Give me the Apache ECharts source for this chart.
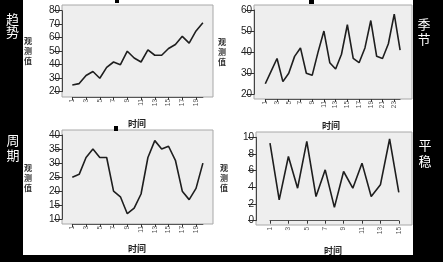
<!DOCTYPE html>
<html><head><meta charset="utf-8">
<script src="https://cdn.jsdelivr.net/npm/echarts@6/dist/echarts.min.js"></script>
<style>html,body{margin:0;padding:0;background:#000;}#c{width:443px;height:262px;}</style>
</head><body><div id="c"></div>
<script>
// ---- data ----
const trendCategories = ['1','2','3','4','5','6','7','8','9','10','11','12','13','14','15','16','17','18','19','20'];
const trendValues = [25, 26, 32, 35, 30, 38, 42, 40, 50, 45, 42, 51, 47, 47, 52, 55, 61, 56, 65, 71];

const seasonCategories = ['1','2','3','4','5','6','7','8','9','10','11','12','13','14','15','16','17','18','19','20','21','22','23','24'];
const seasonValues = [25, 31, 37, 26, 30, 38, 42, 30, 29, 40, 50, 35, 32, 39, 53, 37, 35, 42, 55, 38, 37, 44, 58, 41];

const cycleCategories = ['1','2','3','4','5','6','7','8','9','10','11','12','13','14','15','16','17','18','19','20'];
const cycleValues = [25, 26, 32, 35, 32, 32, 20, 18, 12, 14, 19, 32, 38, 35, 36, 31, 20, 17, 21, 30];

const stableCategories = ['1','2','3','4','5','6','7','8','9','10','11','12','13','14','15'];
const stableValues = [9.3, 2.5, 7.7, 3.9, 9.5, 2.9, 6.1, 1.6, 5.9, 3.9, 6.9, 2.9, 4.3, 9.8, 3.4];

const panelTitles = ['趋势', '季节', '周期', '平稳'];
const yAxisName = '观测值';
const xAxisName = '时间';

// ---- layout ----
const panels = [
  {cats: trendCategories, vals: trendValues, yMin: 20, yMax: 80, yInt: 10,
   grid: {left: 72.3, top: 10.7, width: 130.6, height: 81}, box: [62, 5, 151, 92],
   yName: [28, 51], xName: [137, 124], title: [12.5, 19, 32]},
  {cats: seasonCategories, vals: seasonValues, yMin: 20, yMax: 60, yInt: 10,
   grid: {left: 265.3, top: 10, width: 134.8, height: 84.3}, box: [254, 5, 158, 94],
   yName: [222, 52], xName: [331, 126], title: [424, 24, 39]},
  {cats: cycleCategories, vals: cycleValues, yMin: 10, yMax: 40, yInt: 5,
   grid: {left: 72.3, top: 135, width: 130.6, height: 84.3}, box: [62, 130, 151, 94],
   yName: [28, 178], xName: [137, 249], title: [13, 140, 155]},
  {cats: stableCategories, vals: stableValues, yMin: 0, yMax: 10, yInt: 2,
   grid: {left: 270, top: 137.3, width: 128.8, height: 83.4}, box: [256, 132, 156, 93],
   yName: [224, 178], xName: [333, 251], title: [425, 145, 161]}
];

const numFont = 'Liberation Sans, Arial, sans-serif';
const cjk = '"Noto Sans CJK SC", sans-serif';

// background grids (no axes): white sheet, then grey plot boxes
const grids = [
  {show: true, left: 23, top: 0, width: 390, height: 255, backgroundColor: '#ffffff', borderWidth: 0, borderColor: '#ffffff'}
];
panels.forEach(p => {
  grids.push({show: true, left: p.box[0], top: p.box[1], width: p.box[2], height: p.box[3],
    backgroundColor: '#eeeeee', borderColor: '#a8a8a8', borderWidth: 1});
});
const base = grids.length;

const xAxes = [], yAxes = [], series = [];
const elements = [
  {type: 'rect', shape: {x: 115, y: 0, width: 4, height: 3}, style: {fill: '#000'}},
  {type: 'rect', shape: {x: 309, y: 0, width: 5, height: 4}, style: {fill: '#000'}},
  {type: 'rect', shape: {x: 114, y: 126, width: 4, height: 5}, style: {fill: '#000'}}
];

panels.forEach((p, i) => {
  grids.push(Object.assign({show: false, containLabel: false}, p.grid));
  const gi = base + i;
  const yOff = p.grid.left - p.box[0];
  const xOff = (p.box[1] + p.box[3]) - (p.grid.top + p.grid.height);
  xAxes.push({
    type: 'category', gridIndex: gi, data: p.cats, boundaryGap: false, offset: xOff,
    axisLine: {show: true, lineStyle: {color: '#555', width: 1}},
    axisTick: {show: true, interval: 1, length: 3, lineStyle: {color: '#333'}},
    axisLabel: {interval: 1, rotate: 90, fontSize: 6.5, color: '#555', margin: 2, fontFamily: numFont},
    splitLine: {show: false}
  });
  yAxes.push({
    type: 'value', gridIndex: gi, min: p.yMin, max: p.yMax, interval: p.yInt, offset: yOff,
    axisLine: {show: true, lineStyle: {color: '#444', width: 1}},
    axisTick: {show: true, length: 8, lineStyle: {color: '#333'}},
    axisLabel: {fontSize: 10, color: '#222', margin: 2, fontFamily: numFont},
    splitLine: {show: false}
  });
  series.push({
    type: 'line', xAxisIndex: i, yAxisIndex: i, data: p.vals,
    symbol: 'none', animation: false,
    lineStyle: {color: '#1e1e1e', width: 1.6}
  });
  elements.push({type: 'text', x: p.yName[0], y: p.yName[1],
    style: {text: yAxisName.split('').join('\n'), font: 'bold 8px ' + cjk, lineHeight: 10,
      fill: '#333', align: 'center', verticalAlign: 'middle', textAlign: 'center', textVerticalAlign: 'middle'}});
  elements.push({type: 'text', x: p.xName[0], y: p.xName[1],
    style: {text: xAxisName, font: 'bold 9px ' + cjk, fill: '#222',
      align: 'center', verticalAlign: 'middle', textAlign: 'center', textVerticalAlign: 'middle'}});
  const t = panelTitles[i];
  elements.push({type: 'text', x: p.title[0], y: p.title[1],
    style: {text: t[0], font: '13px ' + cjk, fill: '#fff',
      align: 'center', verticalAlign: 'middle', textAlign: 'center', textVerticalAlign: 'middle'}});
  elements.push({type: 'text', x: p.title[0], y: p.title[2],
    style: {text: t[1], font: '13px ' + cjk, fill: '#fff',
      align: 'center', verticalAlign: 'middle', textAlign: 'center', textVerticalAlign: 'middle'}});
});

const chart = echarts.init(document.getElementById('c'), null, {renderer: 'canvas'});
chart.setOption({
  backgroundColor: '#000',
  animation: false,
  grid: grids,
  xAxis: xAxes,
  yAxis: yAxes,
  series: series,
  graphic: {elements: elements}
});
</script>
</body></html>
